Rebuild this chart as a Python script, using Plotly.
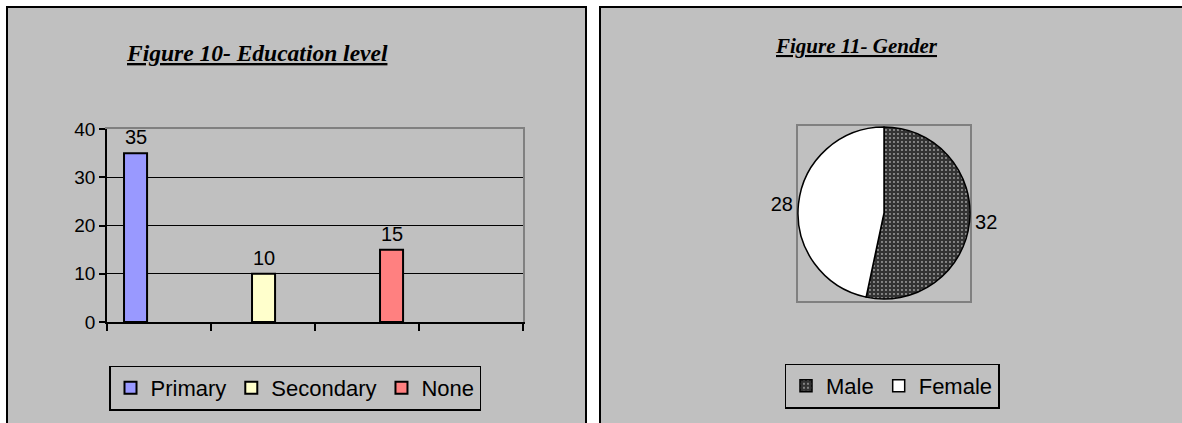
import plotly.graph_objects as go

# ---- Figure 10: education level ----
education_levels = ["Primary", "Secondary", "None"]
education_counts = [35, 10, 15]
education_colors = ["#9999FF", "#FFFFCC", "#FF8080"]
count_ticks = [0, 10, 20, 30, 40]
grid_ticks = [10, 20, 30]
slot_ticks = [0, 1, 2, 3, 4]

# ---- Figure 11: gender ----
genders = ["Male", "Female"]
gender_counts = [32, 28]
gender_colors = ["#333333", "#FFFFFF"]

W, H = 1182, 423
PANEL = "#C0C0C0"
AXIS_GREY = "#808080"
SANS = "Liberation Sans, Arial"
SERIF = "Liberation Serif, Times New Roman"


def fx(p):
    """pixel column -> paper x"""
    return p / W


def fy(p):
    """pixel row -> paper y"""
    return 1 - p / H


fig = go.Figure()

# columns, one trace per level so each gets its own legend entry
for lvl, cnt, col in zip(education_levels, education_counts, education_colors):
    fig.add_trace(go.Bar(
        x=[lvl], y=[cnt], name=lvl, width=0.18,
        marker=dict(color=col, line=dict(color="black", width=2)),
        xaxis="x", yaxis="y", legend="legend", hoverinfo="x+y",
    ))

# value labels above columns
for lvl, cnt in zip(education_levels, education_counts):
    fig.add_annotation(
        x=lvl, y=cnt, xref="x", yref="y", text=str(cnt), showarrow=False,
        xanchor="center", yanchor="middle", yshift=16,
        font=dict(family=SANS, size=20, color="black"),
    )


def frame_holder(xa, ya):
    """invisible trace so that a frame-only axis pair gets rendered"""
    return go.Scatter(x=[0], y=[0], mode="markers", marker=dict(opacity=0),
                      xaxis=xa, yaxis=ya, showlegend=False, hoverinfo="skip")


fig.add_trace(frame_holder("x2", "y"))
fig.add_trace(frame_holder("x3", "y"))
fig.add_trace(frame_holder("x", "y2"))
fig.add_trace(frame_holder("x4", "y4"))

# gender pie
fig.add_trace(go.Pie(
    labels=genders, values=gender_counts, sort=False, direction="clockwise",
    rotation=0, textinfo="value", textposition="outside",
    outsidetextfont=dict(family=SANS, size=20, color="black"),
    marker=dict(
        colors=gender_colors,
        line=dict(color="black", width=1.5),
        pattern=dict(shape=[".", ""], fgcolor=["#FFFFFF", "#000000"],
                     bgcolor=gender_colors, fillmode="replace",
                     size=4, solidity=0.1),
    ),
    domain=dict(x=[fx(798), fx(970)], y=[fy(299), fy(127)]),
    legend="legend2", hoverinfo="label+value",
))

bar_xdom = [fx(107), fx(523)]
bar_ydom = [fy(322), fy(129)]
no_marks = dict(showticklabels=False, ticks="", showgrid=False, zeroline=False)

fig.update_layout(
    width=W, height=H,
    margin=dict(l=0, r=0, t=0, b=0, autoexpand=False),
    paper_bgcolor="white",
    plot_bgcolor="rgba(0,0,0,0)",
    barmode="overlay",
    font=dict(family=SANS, color="black"),
    # category axis carrying the columns (hidden)
    xaxis=dict(domain=bar_xdom, type="category", range=[-0.223, 3.027],
               visible=False, anchor="y"),
    # bottom axis with slot tick marks
    xaxis2=dict(overlaying="x", anchor="y", range=[0, 4], tickvals=slot_ticks,
                showticklabels=False, ticks="outside", ticklen=7, tickwidth=1.5,
                tickcolor="black", showline=True, linecolor="black", linewidth=1.5,
                showgrid=False, zeroline=False, side="bottom"),
    # grey frame on top of the plot area
    xaxis3=dict(overlaying="x", anchor="y", range=[0, 1], side="top",
                showline=True, linecolor=AXIS_GREY, linewidth=2, **no_marks),
    yaxis=dict(domain=bar_ydom, range=[0, 40], tickvals=count_ticks,
               ticks="outside", ticklen=6, tickwidth=1.5, tickcolor="black",
               showline=True, linecolor="black", linewidth=1.5,
               showgrid=False, zeroline=False, anchor="x",
               tickfont=dict(family=SANS, size=19, color="black")),
    # gridlines + grey right frame
    yaxis2=dict(overlaying="y", anchor="x", side="right", range=[0, 40],
                tickvals=grid_ticks, showticklabels=False, ticks="",
                showgrid=True, gridcolor="black", gridwidth=1.2,
                showline=True, linecolor=AXIS_GREY, linewidth=2, zeroline=False),
    # grey square around the pie
    xaxis4=dict(domain=[fx(798), fx(970)], anchor="y4", range=[0, 1],
                showline=True, mirror=True, linecolor=AXIS_GREY, linewidth=2,
                **no_marks),
    yaxis4=dict(domain=[fy(301), fy(126)], anchor="x4", range=[0, 1],
                showline=True, mirror=True, linecolor=AXIS_GREY, linewidth=2,
                **no_marks),
    legend=dict(orientation="h", x=fx(295), y=fy(388), xanchor="center",
                yanchor="middle", bgcolor="rgba(0,0,0,0)", bordercolor="black",
                borderwidth=1.5, traceorder="normal",
                font=dict(family=SANS, size=22, color="black")),
    legend2=dict(orientation="h", x=fx(892), y=fy(386), xanchor="center",
                 yanchor="middle", bgcolor="rgba(0,0,0,0)", bordercolor="black",
                 borderwidth=1.5,
                 font=dict(family=SANS, size=22, color="black")),
    showlegend=True,
)

# chart panels
fig.add_shape(type="rect", xref="paper", yref="paper", layer="below",
              x0=fx(7), x1=fx(586), y0=-0.05, y1=fy(7),
              fillcolor=PANEL, line=dict(color="black", width=2))
fig.add_shape(type="rect", xref="paper", yref="paper", layer="below",
              x0=fx(600), x1=1.05, y0=-0.05, y1=fy(7),
              fillcolor=PANEL, line=dict(color="black", width=2))

# panel titles
fig.add_annotation(
    x=fx(257), y=fy(53), xref="paper", yref="paper", showarrow=False,
    xanchor="center", yanchor="middle",
    text="<b><i><u>Figure 10- Education level</u></i></b>",
    font=dict(family=SERIF, size=23.5, color="black"),
)
fig.add_annotation(
    x=fx(856), y=fy(46), xref="paper", yref="paper", showarrow=False,
    xanchor="center", yanchor="middle",
    text="<b><i><u>Figure 11- Gender</u></i></b>",
    font=dict(family=SERIF, size=21, color="black"),
)

fig.write_html("out.html")
